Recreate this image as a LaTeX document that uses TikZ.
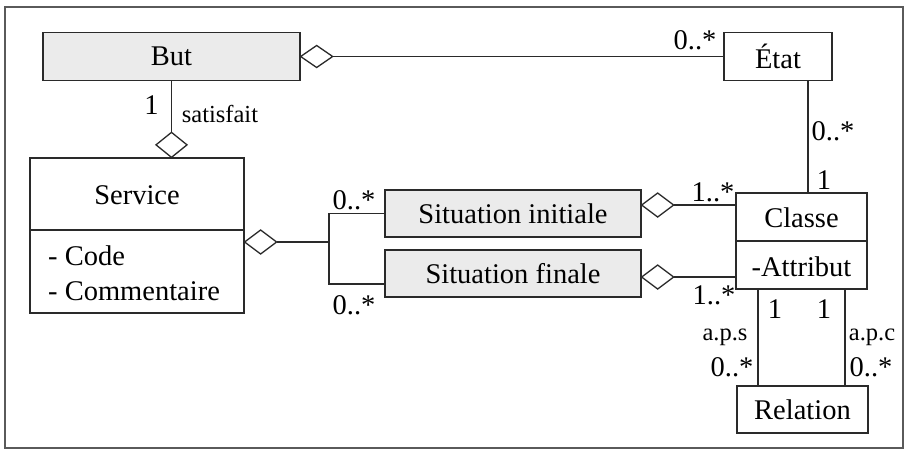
\documentclass[tikz,border=0pt]{standalone}
\usepackage{fontspec}
\setmainfont{Liberation Serif}
\usetikzlibrary{calc}
\definecolor{ln}{HTML}{2A2A2A}
\definecolor{boxgray}{HTML}{EBEBEB}
\definecolor{frm}{HTML}{5A5A5A}
\begin{document}
\begin{tikzpicture}[x=1pt,y=-1pt,
  box/.style={draw=ln,line width=1.3pt,inner sep=0pt,font=\fontsize{28.5}{32}\selectfont},
  gbox/.style={box,fill=boxgray},
  lab/.style={inner sep=0pt,font=\fontsize{28.5}{32}\selectfont},
  slab/.style={inner sep=0pt,font=\fontsize{24.5}{28}\selectfont},
  conn/.style={draw=ln,line width=1.3pt},
  diam/.style={draw=ln,line width=1.3pt,fill=white,line join=miter}]
\useasboundingbox (0,0) rectangle (912,456);
\draw[draw=frm,line width=1.6pt] (5,7) rectangle (903,448);

% boxes
\node[gbox,minimum width=257,minimum height=48] (but) at (171.5,56.5) {But};
\node[box,minimum width=108,minimum height=48] (etat) at (778,56.5) {État};
\node[box,minimum width=214,minimum height=155] (service) at (137,235.5) {};
\node[lab] (serviceT) at (137,195) {Service};
\draw[conn] (service.west |- 0,230) -- (service.east |- 0,230);
\node[lab,anchor=west] (code) at (48,255.5) {- Code};
\node[lab,anchor=west] (comm) at (48,291) {- Commentaire};
\node[box,minimum width=131,minimum height=96] (classe) at (801.5,241) {};
\draw[conn] (classe.west) -- (classe.east);
\node[lab] (classeT) at (801.5,218) {Classe};
\node[lab] (attr) at (801.5,266.5) {-Attribut};
\node[gbox,minimum width=256,minimum height=47] (sinit) at (513,213.5) {Situation initiale};
\node[gbox,minimum width=256,minimum height=47] (sfin) at (513,273.5) {Situation finale};
\node[box,minimum width=131,minimum height=47] (rel) at (802.5,409.5) {Relation};

% But -- Etat
\draw[diam] (but.east) -- ++(16,-11) -- ++(16,11) coordinate (d1) -- ++(-16,11) -- cycle;
\draw[conn] (d1) -- (etat.west);

% Etat -- Classe
\coordinate (ev) at ([xshift=30pt]etat.south);
\draw[conn] (ev) -- (ev |- classe.north);

% But -- Service
\draw[diam] (but.south |- service.north) -- ++(-15.5,-12.5) -- ++(15.5,-12.5) coordinate (d2) -- ++(15.5,12.5) -- cycle;
\draw[conn] (but.south) -- (d2);

% Service -- Situations
\coordinate (jn) at (329,242);
\coordinate (jf) at (329,284);
\draw[diam] (service.east |- jn) -- ++(16,-12) -- ++(16,12) coordinate (d3) -- ++(-16,12) -- cycle;
\draw[conn] (d3) -- (jn);
\draw[conn] (sinit.west) -| (jf) -- (sfin.west |- jf);

% Situations -- Classe
\coordinate (ci) at ($(sinit.east)+(0,-8.5)$);
\draw[diam] (ci) -- ++(16,-12) -- ++(16,12) coordinate (d4) -- ++(-16,12) -- cycle;
\draw[conn] (d4) -- (classe.west |- d4);
\coordinate (cf) at ($(sfin.east)+(0,3.5)$);
\draw[diam] (cf) -- ++(16,-12) -- ++(16,12) coordinate (d5) -- ++(-16,12) -- cycle;
\draw[conn] (d5) -- (classe.west |- d5);

% Classe -- Relation
\coordinate (r1) at (758,0);
\coordinate (r2) at (845,0);
\draw[conn] (classe.south -| r1) -- (rel.north -| r1);
\draw[conn] (classe.south -| r2) -- (rel.north -| r2);

% labels
\node[lab] (m1) at (151.5,105) {1};
\node[slab] (sat) at (220,113.5) {satisfait};
\node[lab] (m2) at (695,40) {0..*};
\node[lab] (m3) at (833,131) {0..*};
\node[lab] (m4) at (824,180) {1};
\node[lab] (m5) at (713,192) {1..*};
\node[lab] (m6) at (354,200) {0..*};
\node[lab] (m7) at (354,305) {0..*};
\node[lab] (m8) at (714,295) {1..*};
\node[lab] (m9) at (775,309) {1};
\node[lab] (m10) at (824,309) {1};
\node[slab] (aps) at (725,337) {a.p.s};
\node[lab] (m11) at (732,367) {0..*};
\node[slab] (apc) at (872,337) {a.p.c};
\node[lab] (m12) at (871,367) {0..*};
\end{tikzpicture}
\end{document}
